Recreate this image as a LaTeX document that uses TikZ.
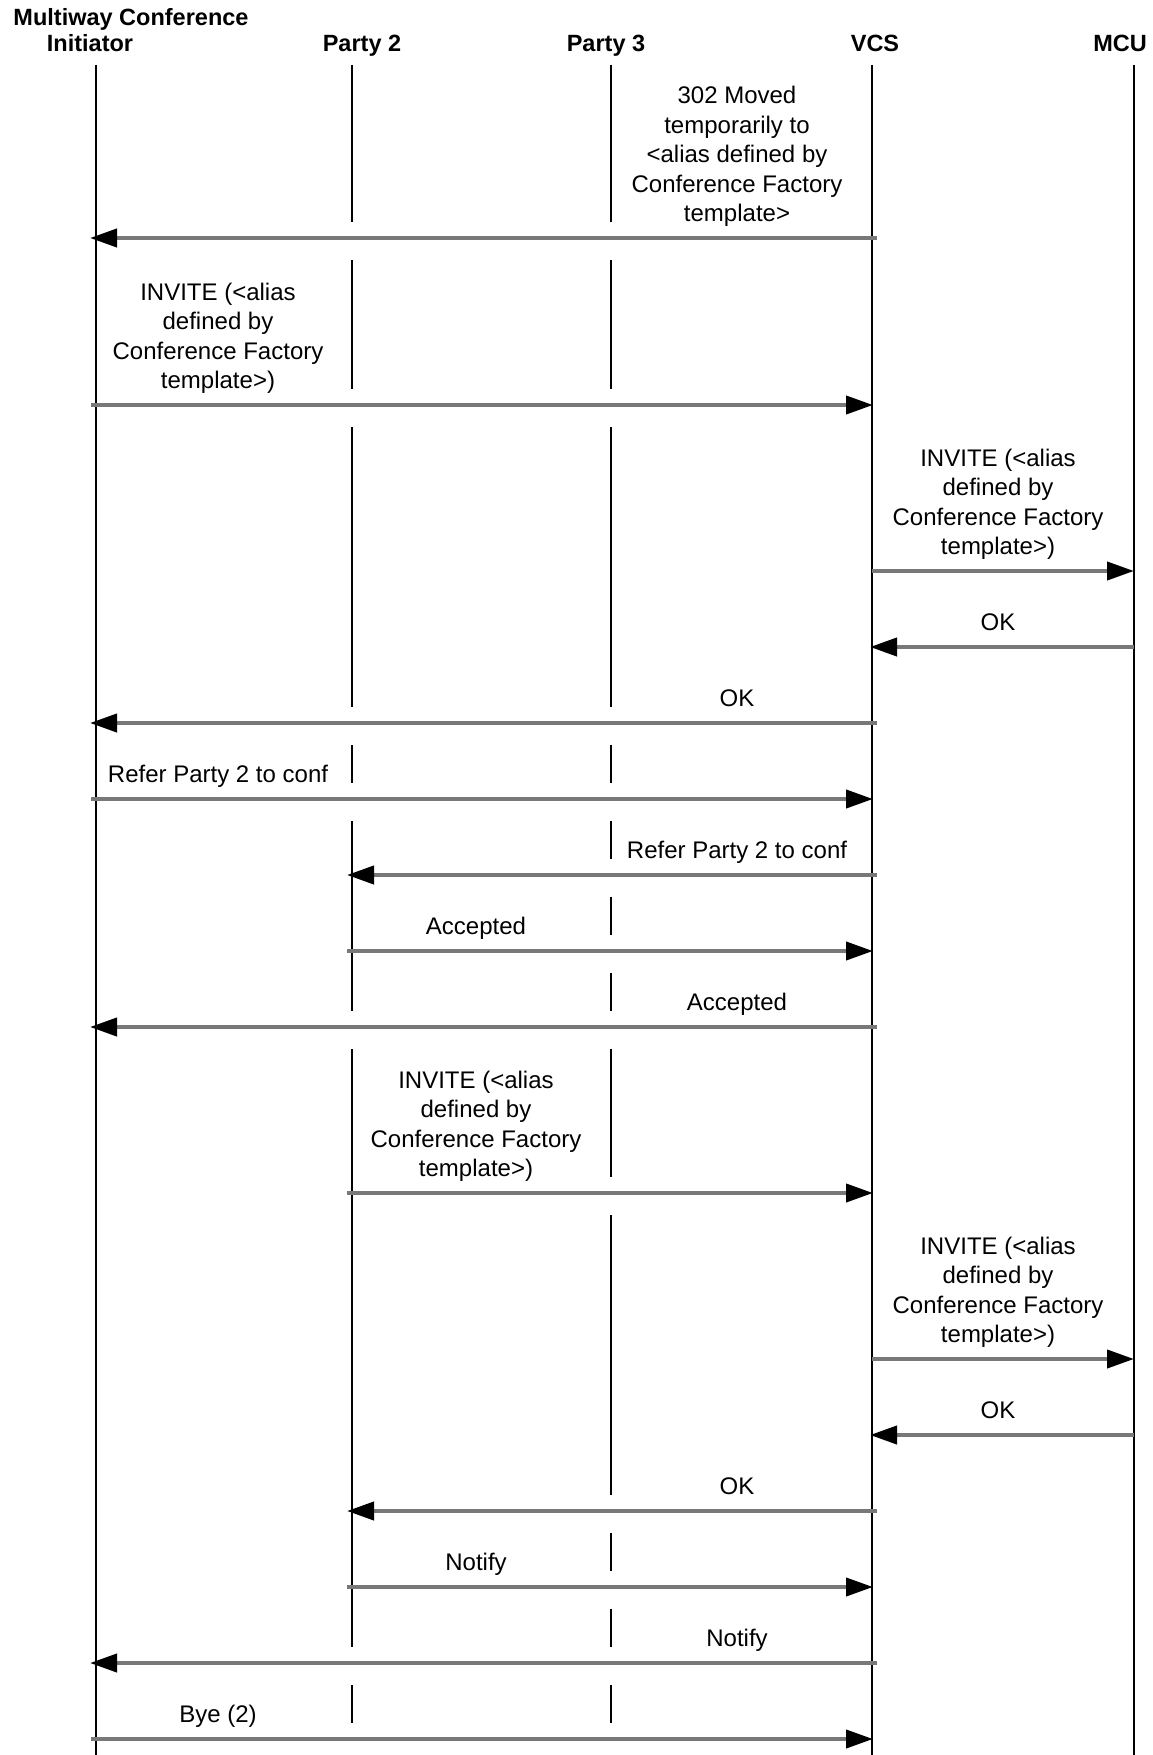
\documentclass[tikz,border=0pt]{standalone}
\usepackage{fontspec}
\setmainfont{Liberation Sans}
\usetikzlibrary{arrows.meta}
\definecolor{msggray}{RGB}{120,120,120}
\begin{document}
\begin{tikzpicture}[x=1pt,y=-1pt,
  life/.style={line width=2pt,black},
  msg/.style={line width=4pt,draw=msggray,-{Triangle[length=27pt,width=18pt,black]}},
  lbl/.style={font=\fontsize{24}{29.5}\selectfont,inner sep=0pt,align=center},
  mlbl/.style={lbl,anchor=south},
  slbl/.style={lbl,anchor=base},
  hdr/.style={font=\fontsize{23.5}{28}\selectfont\bfseries,inner sep=0pt,anchor=base}]
\useasboundingbox (0,0) rectangle (1152,1755);
% header
\node[hdr] (title) at (131,26) {Multiway Conference};
\node[hdr] (hI) at (90,52) {Initiator};
\node[hdr] (hP2) at (362,52) {Party 2};
\node[hdr] (hP3) at (606,52) {Party 3};
\node[hdr] (hV) at (875,52) {VCS};
\node[hdr] (hM) at (1120,52) {MCU};
% lifelines
\coordinate (lI) at (96,65);  \coordinate (lIb) at (96,1755);
\coordinate (lV) at (872,65); \coordinate (lVb) at (872,1755);
\coordinate (lM) at (1134,65); \coordinate (lMb) at (1134,1755);
\draw[life] (lI) -- (lIb);
\draw[life] (lV) -- (lVb);
\draw[life] (lM) -- (lMb);
\foreach \a/\b in {65/222,260/389,427/707,745/783,821/1011,1049/1647,1685/1723}
  \draw[life] (352,\a) -- (352,\b);
\foreach \a/\b in {65/222,260/389,427/707,745/783,821/859,897/935,973/1011,1049/1177,1215/1495,1533/1571,1609/1647,1685/1723}
  \draw[life] (611,\a) -- (611,\b);
% message end points
\coordinate (s1) at (877,238);  \coordinate (t1) at (90,238);
\coordinate (s2) at (91,405);   \coordinate (t2) at (873,405);
\coordinate (s3) at (872,571);  \coordinate (t3) at (1134,571);
\coordinate (s4) at (1134,647); \coordinate (t4) at (870,647);
\coordinate (s5) at (877,723);  \coordinate (t5) at (90,723);
\coordinate (s6) at (91,799);   \coordinate (t6) at (873,799);
\coordinate (s7) at (877,875);  \coordinate (t7) at (347,875);
\coordinate (s8) at (347,951);  \coordinate (t8) at (873,951);
\coordinate (s9) at (877,1027); \coordinate (t9) at (90,1027);
\coordinate (s10) at (347,1193); \coordinate (t10) at (873,1193);
\coordinate (s11) at (872,1359); \coordinate (t11) at (1134,1359);
\coordinate (s12) at (1134,1435); \coordinate (t12) at (870,1435);
\coordinate (s13) at (877,1511); \coordinate (t13) at (347,1511);
\coordinate (s14) at (347,1587); \coordinate (t14) at (873,1587);
\coordinate (s15) at (877,1663); \coordinate (t15) at (90,1663);
\coordinate (s16) at (91,1739); \coordinate (t16) at (873,1739);
\foreach \k in {1,...,16} \draw[msg] (s\k) -- (t\k);
% labels
\node[mlbl] (L1) at (737,227) {302 Moved\\temporarily to\\<alias defined by\\Conference Factory\\template>};
\node[mlbl] (L2) at (218,394) {INVITE (<alias\\defined by\\Conference Factory\\template>)};
\node[mlbl] (L3) at (998,560) {INVITE (<alias\\defined by\\Conference Factory\\template>)};
\node[slbl] (L4) at (998,630) {OK};
\node[slbl] (L5) at (737,706) {OK};
\node[slbl] (L6) at (218,782) {Refer Party 2 to conf};
\node[slbl] (L7) at (737,858) {Refer Party 2 to conf};
\node[slbl] (L8) at (476,934) {Accepted};
\node[slbl] (L9) at (737,1010) {Accepted};
\node[mlbl] (L10) at (476,1182) {INVITE (<alias\\defined by\\Conference Factory\\template>)};
\node[mlbl] (L11) at (998,1348) {INVITE (<alias\\defined by\\Conference Factory\\template>)};
\node[slbl] (L12) at (998,1418) {OK};
\node[slbl] (L13) at (737,1494) {OK};
\node[slbl] (L14) at (476,1570) {Notify};
\node[slbl] (L15) at (737,1646) {Notify};
\node[slbl] (L16) at (218,1722) {Bye (2)};
\end{tikzpicture}
\end{document}
